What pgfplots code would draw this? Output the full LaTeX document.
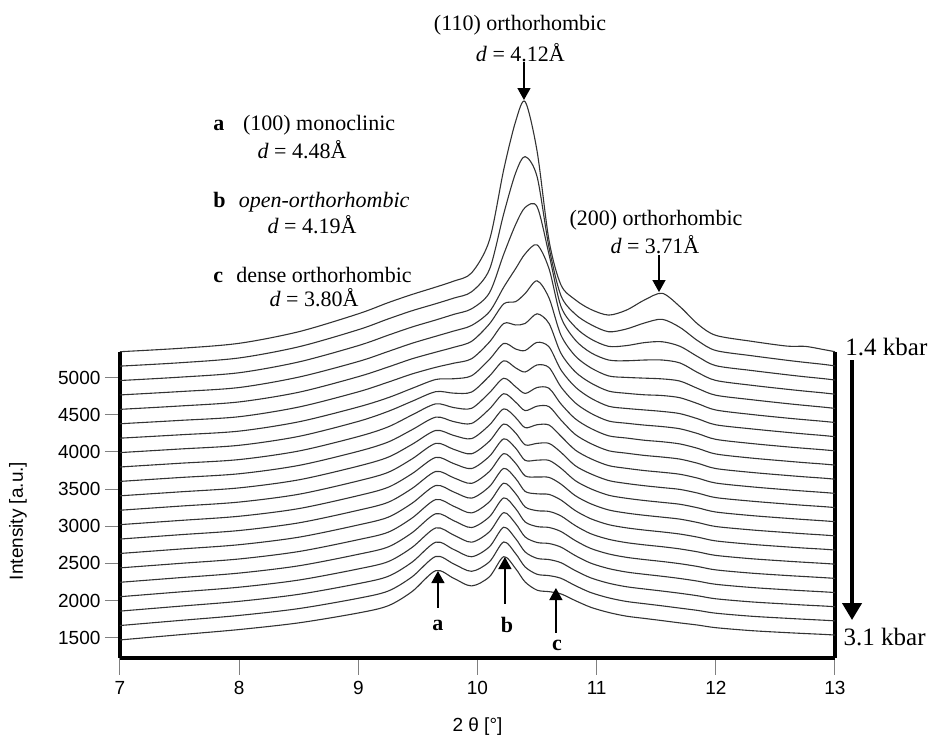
\documentclass[border=0pt]{standalone}
\usepackage{fontspec}
\setmainfont{Liberation Serif}
\newfontfamily\hv{Liberation Sans}
\usepackage{pgfplots}
\pgfplotsset{compat=1.18}
\usepackage{pgfplotstable}
\usetikzlibrary{arrows.meta}

\pgfplotstableread{
x c1 c2 c3 c4 c5 c6 c7 c8 c9 c10 c11 c12 c13 c14 c15 c16 c17 c18 c19 c20 c21
7.0 5350 5156 4962 4768 4574 4380 4186 3992 3798 3604 3410 3216 3022 2828 2634 2440 2246 2052 1858 1664 1470
7.5 5395 5201 5007 4813 4619 4425 4231 4040 3848 3656 3463 3271 3078 2886 2693 2500 2308 2116 1924 1732 1540
8.0 5463 5266 5067 4868 4674 4475 4281 4090 3898 3707 3517 3326 3135 2943 2752 2560 2370 2180 1990 1800 1610
8.5 5619 5416 5212 5008 4804 4605 4406 4210 4013 3819 3625 3431 3238 3046 2853 2660 2468 2276 2084 1892 1700
9.0 5860 5646 5432 5218 5014 4810 4606 4412 4208 4009 3810 3611 3413 3216 3018 2820 2623 2426 2228 2031 1833
9.25 6010 5791 5572 5353 5144 4940 4731 4547 4338 4134 3930 3726 3525 3323 3122 2920 2722 2524 2326 2128 1930
9.45 6120 5901 5682 5463 5254 5050 4856 4682 4498 4299 4102 3906 3707 3508 3309 3110 2912 2714 2516 2318 2120
9.65 6220 5996 5777 5558 5344 5140 4976 4812 4648 4469 4290 4116 3927 3738 3549 3360 3169 2978 2786 2594 2403
9.8 6300 6071 5852 5628 5409 5195 4986 4792 4598 4409 4223 4036 3844 3653 3462 3270 3076 2882 2688 2494 2300
9.95 6410 6156 5927 5703 5489 5255 5026 4807 4588 4384 4180 3976 3777 3578 3379 3180 2983 2786 2590 2394 2197
10.1 6850 6456 6142 5888 5724 5480 5246 5022 4798 4579 4363 4146 3942 3738 3534 3330 3128 2926 2724 2522 2320
10.22 7800 7206 6662 6218 5994 5730 5461 5227 4992 4784 4580 4376 4177 3978 3779 3580 3382 3184 2987 2789 2591
10.32 8450 7756 7062 6468 6024 5710 5386 5132 4878 4671 4463 4256 4052 3848 3644 3440 3238 3036 2834 2632 2430
10.4 8715 7976 7292 6668 6134 5730 5366 5077 4788 4557 4327 4096 3887 3678 3469 3260 3058 2856 2654 2452 2250
10.5 8050 7706 7302 6788 6304 5860 5476 5172 4868 4617 4367 4116 3890 3663 3437 3210 2996 2782 2568 2354 2140
10.6 6850 6756 6662 6468 6074 5730 5416 5137 4858 4611 4363 4116 3887 3658 3429 3200 2984 2768 2552 2336 2120
10.7 6250 6106 5962 5818 5574 5330 5106 4877 4648 4431 4213 3996 3782 3568 3354 3140 2930 2720 2510 2300 2090
10.82 6050 5856 5682 5508 5294 5080 4876 4662 4448 4237 4027 3816 3615 3413 3212 3010 2808 2606 2404 2202 2000
10.95 5920 5716 5522 5338 5134 4930 4726 4522 4318 4114 3910 3706 3505 3303 3102 2900 2702 2504 2306 2108 1910
11.1 5843 5619 5422 5238 5024 4820 4616 4417 4218 4017 3817 3616 3418 3220 3022 2825 2628 2431 2234 2037 1840
11.25 5910 5656 5432 5228 5004 4790 4586 4387 4188 3984 3780 3576 3377 3178 2979 2780 2582 2384 2186 1988 1790
11.4 6045 5736 5472 5238 4994 4770 4566 4362 4158 3954 3750 3546 3347 3148 2949 2750 2552 2354 2156 1958 1760
11.55 6136 5786 5484 5238 4984 4760 4546 4342 4138 3932 3727 3521 3322 3123 2924 2725 2526 2327 2128 1929 1730
11.7 5955 5676 5422 5198 4954 4730 4516 4312 4108 3904 3700 3496 3296 3096 2895 2695 2496 2297 2098 1898 1699
11.85 5720 5496 5282 5068 4854 4650 4446 4247 4048 3847 3647 3446 3248 3050 2853 2655 2458 2261 2064 1867 1670
12.0 5570 5366 5162 4963 4764 4565 4366 4170 3973 3777 3582 3386 3192 2997 2803 2608 2413 2219 2024 1830 1635
12.3 5490 5296 5097 4898 4704 4505 4311 4114 3918 3725 3531 3338 3144 2951 2757 2563 2369 2176 1982 1789 1595
12.6 5425 5234 5039 4844 4651 4456 4264 4069 3876 3684 3491 3299 3107 2915 2722 2530 2337 2145 1953 1761 1568
12.75 5422 5206 5012 4819 4627 4434 4242 4049 3856 3665 3473 3281 3090 2898 2706 2515 2323 2131 1939 1748 1556
12.9 5380 5180 4988 4796 4604 4413 4222 4030 3838 3648 3456 3265 3074 2883 2692 2501 2309 2118 1927 1736 1545
13.0 5350 5159 4969 4778 4587 4397 4206 4015 3824 3634 3443 3252 3062 2871 2680 2490 2299 2108 1917 1727 1536
}\data

\tikzset{
  ann/.style={font=\fontsize{11}{13}\selectfont, inner sep=0pt},
  sarrow/.style={line width=0.7pt, -{Triangle[width=6.5pt,length=6pt]}},
}

\begin{document}
\begin{tikzpicture}
\useasboundingbox (-60pt,-40pt) rectangle (406pt,329pt);
\begin{axis}[
  scale only axis, width=357.5pt, height=153pt,
  xmin=7, xmax=13, ymin=1227, ymax=5346,
  clip=false,
  axis x line*=bottom, axis y line*=box,
  axis line style={line width=2pt, black},
  xtick={7,8,...,13}, ytick={1500,2000,...,5000},
  ytick pos=left,
  tick align=outside,
  tick style={gray, line width=0.5pt},
  xtick style={/pgfplots/major tick length=8.5pt},
  ytick style={/pgfplots/major tick length=7.5pt},
  tick label style={font=\fontsize{9.5}{11}\selectfont\hv},
  yticklabel style={xshift=-2pt},
  xticklabel style={yshift=-4pt},
  /pgf/number format/assume math mode=true,
  /pgf/number format/set thousands separator={},
  xlabel={2 θ [°]}, ylabel={Intensity [a.u.]},
  label style={font=\fontsize{9.5}{11}\selectfont\hv},
  xlabel style={at={(axis description cs:0.5,-0.2255)}, anchor=center},
  ylabel style={at={(axis description cs:-0.1427,0.448)}, anchor=center},
]
\pgfplotsinvokeforeach{1,...,21}{
  \addplot[smooth, line width=0.55pt, black!80] table[x=x, y=c#1] {\data};
}
% top annotations
\node[ann] at (axis cs:10.357,9747) {(110) orthorhombic};
\node[ann] at (axis cs:10.36,9371) {\textit{d} = 4.12Å};
\draw[sarrow] (axis cs:10.39,9249) -- (axis cs:10.39,8738);
% left annotations
\node[ann, anchor=west] at (axis cs:7.78,8401) {\textbf{a}\hspace{0.85em}(100) monoclinic};
\node[ann] at (axis cs:8.527,8065) {\textit{d} = 4.48Å};
\node[ann, anchor=west] at (axis cs:7.78,7365) {\textbf{b}\hspace{0.6em}\textit{open-orthorhombic}};
\node[ann] at (axis cs:8.611,7055) {\textit{d} = 4.19Å};
\node[ann, anchor=west] at (axis cs:7.78,6382) {\textbf{c}\hspace{0.6em}dense orthorhombic};
\node[ann] at (axis cs:8.628,6073) {\textit{d} = 3.80Å};
% right annotations
\node[ann] at (axis cs:11.498,7122) {(200) orthorhombic};
\node[ann] at (axis cs:11.489,6786) {\textit{d} = 3.71Å};
\draw[sarrow] (axis cs:11.523,6651) -- (axis cs:11.523,6153);
% pressure
\node[anchor=west, inner sep=0pt, font=\fontsize{12.5}{14}\selectfont] at (axis cs:13.084,5413) {1.4 kbar};
\node[anchor=west, inner sep=0pt, font=\fontsize{12.5}{14}\selectfont] at (axis cs:13.07,1510) {3.1 kbar};
\draw[line width=2pt, -{Triangle[width=9.5pt,length=8.5pt]}] (axis cs:13.143,5238) -- (axis cs:13.143,1738);
% a b c
\node[ann, font=\fontsize{11}{13}\selectfont\bfseries] at (axis cs:9.668,1671) {a};
\draw[sarrow] (axis cs:9.668,1900) -- (axis cs:9.668,2398);
\node[ann, font=\fontsize{11}{13}\selectfont\bfseries] at (axis cs:10.247,1671) {b};
\draw[sarrow] (axis cs:10.23,1954) -- (axis cs:10.23,2586);
\node[ann, font=\fontsize{11}{13}\selectfont\bfseries] at (axis cs:10.667,1402) {c};
\draw[sarrow] (axis cs:10.658,1564) -- (axis cs:10.658,2169);
\end{axis}
\end{tikzpicture}
\end{document}
